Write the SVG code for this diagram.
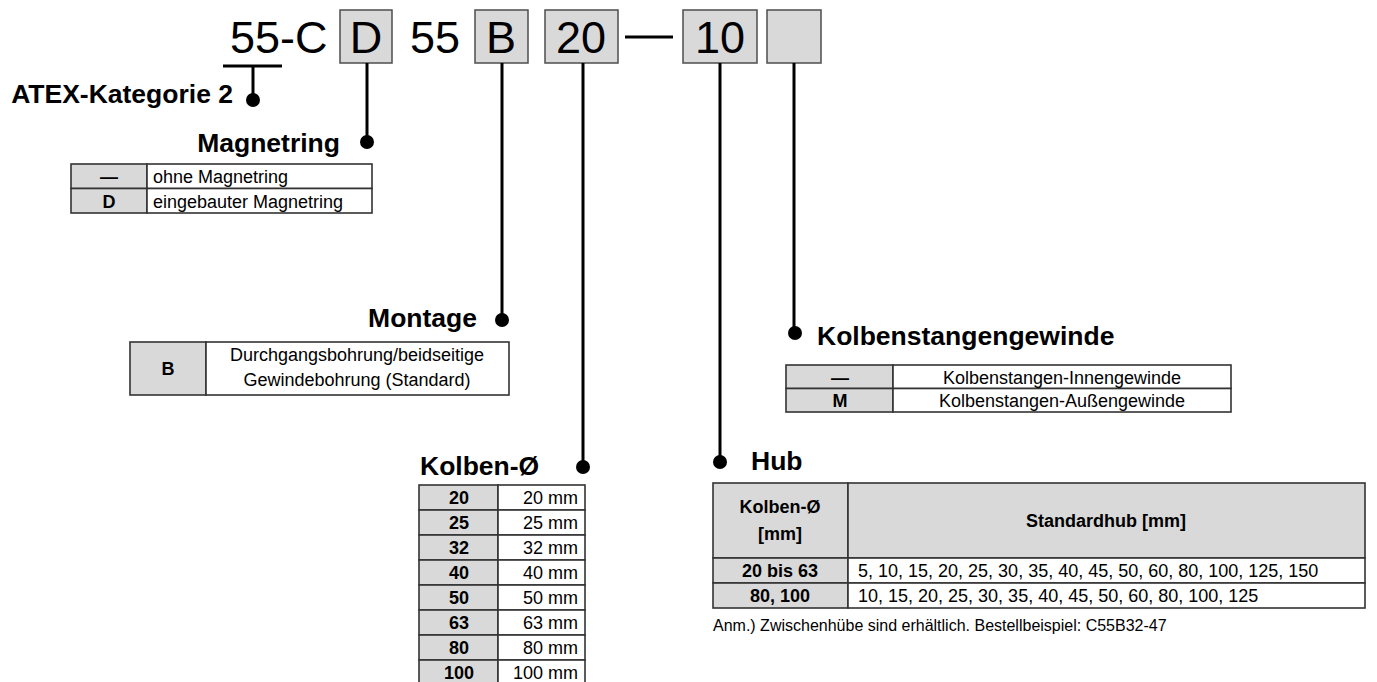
<svg xmlns="http://www.w3.org/2000/svg" width="1377" height="682" viewBox="0 0 1377 682">
<style>
text{font-family:"Liberation Sans",Arial,sans-serif;fill:#000}
.code{font-size:45px}
.h{font-size:26.5px;font-weight:bold}
.t{font-size:18px}
.tb{font-size:18px;font-weight:bold}
.note{font-size:16px}
.box{fill:#d9d9d9;stroke:#4d4d4d;stroke-width:1.5}
.g{fill:#d9d9d9;stroke:#333;stroke-width:1.6}
.w{fill:#fff;stroke:#333;stroke-width:1.6}
.ln{stroke:#000;stroke-width:3;fill:none}
.dot{fill:#000}
.m{text-anchor:middle}
.e{text-anchor:end}
</style>
<rect width="1377" height="682" fill="#fff"/>
<g id="code">
<text class="code" x="230" y="53">55-C</text>
<rect class="box" x="340" y="10" width="52" height="53"/>
<text class="code m" x="366" y="53">D</text>
<text class="code" x="410" y="53">55</text>
<rect class="box" x="475" y="10" width="53" height="53"/>
<text class="code m" x="501" y="53">B</text>
<rect class="box" x="545" y="10" width="73" height="53"/>
<text class="code m" x="581" y="53">20</text>
<line class="ln" x1="625" y1="37" x2="673" y2="37"/>
<rect class="box" x="683" y="10" width="74" height="53"/>
<text class="code m" x="720" y="53">10</text>
<rect class="box" x="767" y="10" width="54" height="53"/>
</g>
<g id="connectors">
<line class="ln" x1="223" y1="66" x2="282" y2="66"/>
<line class="ln" x1="253" y1="66" x2="253" y2="100"/>
<circle class="dot" cx="253" cy="100" r="7"/>
<line class="ln" x1="367" y1="63" x2="367" y2="142"/>
<circle class="dot" cx="367" cy="142" r="7"/>
<line class="ln" x1="502" y1="63" x2="502" y2="320"/>
<circle class="dot" cx="502" cy="320" r="7"/>
<line class="ln" x1="583" y1="63" x2="583" y2="467"/>
<circle class="dot" cx="583" cy="467" r="7"/>
<line class="ln" x1="720" y1="63" x2="720" y2="462"/>
<circle class="dot" cx="720" cy="462" r="7"/>
<line class="ln" x1="794" y1="63" x2="794" y2="333"/>
<circle class="dot" cx="795" cy="333" r="7"/>
</g>
<g id="atex">
<text class="h e" x="233" y="103">ATEX-Kategorie 2</text>
</g>
<g id="magnetring">
<text class="h e" x="340" y="152">Magnetring</text>
<rect class="g" x="71" y="164" width="76" height="24.5"/>
<rect class="w" x="147" y="164" width="225" height="24.5"/>
<rect class="g" x="71" y="188.5" width="76" height="24.5"/>
<rect class="w" x="147" y="188.5" width="225" height="24.5"/>
<text class="tb m" x="109" y="183">—</text>
<text class="t" x="153" y="183">ohne Magnetring</text>
<text class="tb m" x="109" y="207.5">D</text>
<text class="t" x="153" y="207.5">eingebauter Magnetring</text>
</g>
<g id="montage">
<text class="h e" x="477" y="327">Montage</text>
<rect class="g" x="130" y="342" width="76" height="53"/>
<rect class="w" x="206" y="342" width="303" height="53"/>
<text class="tb m" x="168" y="375">B</text>
<text class="t m" x="357" y="361">Durchgangsbohrung/beidseitige</text>
<text class="t m" x="357" y="386">Gewindebohrung (Standard)</text>
</g>
<g id="kolbenstangengewinde">
<text class="h" x="817" y="345">Kolbenstangengewinde</text>
<rect class="g" x="786" y="365" width="107" height="23.5"/>
<rect class="w" x="893" y="365" width="338" height="23.5"/>
<rect class="g" x="786" y="388.5" width="107" height="23.5"/>
<rect class="w" x="893" y="388.5" width="338" height="23.5"/>
<text class="tb m" x="840" y="383.5">—</text>
<text class="t m" x="1062" y="383.5">Kolbenstangen-Innengewinde</text>
<text class="tb m" x="840" y="407">M</text>
<text class="t m" x="1062" y="407">Kolbenstangen-Außengewinde</text>
</g>
<g id="kolben">
<text class="h" x="420" y="475">Kolben-Ø</text>
<rect class="g" x="419" y="485" width="79" height="25"/><rect class="w" x="498" y="485" width="87" height="25"/>
<rect class="g" x="419" y="510" width="79" height="25"/><rect class="w" x="498" y="510" width="87" height="25"/>
<rect class="g" x="419" y="535" width="79" height="25"/><rect class="w" x="498" y="535" width="87" height="25"/>
<rect class="g" x="419" y="560" width="79" height="25"/><rect class="w" x="498" y="560" width="87" height="25"/>
<rect class="g" x="419" y="585" width="79" height="25"/><rect class="w" x="498" y="585" width="87" height="25"/>
<rect class="g" x="419" y="610" width="79" height="25"/><rect class="w" x="498" y="610" width="87" height="25"/>
<rect class="g" x="419" y="635" width="79" height="25"/><rect class="w" x="498" y="635" width="87" height="25"/>
<rect class="g" x="419" y="660" width="79" height="25"/><rect class="w" x="498" y="660" width="87" height="25"/>
<text class="tb m" x="459" y="504">20</text><text class="t e" x="578" y="504">20 mm</text>
<text class="tb m" x="459" y="529">25</text><text class="t e" x="578" y="529">25 mm</text>
<text class="tb m" x="459" y="554">32</text><text class="t e" x="578" y="554">32 mm</text>
<text class="tb m" x="459" y="579">40</text><text class="t e" x="578" y="579">40 mm</text>
<text class="tb m" x="459" y="604">50</text><text class="t e" x="578" y="604">50 mm</text>
<text class="tb m" x="459" y="629">63</text><text class="t e" x="578" y="629">63 mm</text>
<text class="tb m" x="459" y="654">80</text><text class="t e" x="578" y="654">80 mm</text>
<text class="tb m" x="459" y="679">100</text><text class="t e" x="578" y="679">100 mm</text>
</g>
<g id="hub">
<text class="h" x="751" y="470">Hub</text>
<rect class="g" x="713" y="483" width="135" height="75"/>
<rect class="g" x="848" y="483" width="517" height="75"/>
<rect class="g" x="713" y="558" width="135" height="25"/>
<rect class="w" x="848" y="558" width="517" height="25"/>
<rect class="g" x="713" y="583" width="135" height="25"/>
<rect class="w" x="848" y="583" width="517" height="25"/>
<text class="tb m" x="780" y="513">Kolben-Ø</text>
<text class="tb m" x="780" y="540">[mm]</text>
<text class="tb m" x="1106" y="527">Standardhub [mm]</text>
<text class="tb m" x="780" y="577">20 bis 63</text>
<text class="t" x="858" y="577">5, 10, 15, 20, 25, 30, 35, 40, 45, 50, 60, 80, 100, 125, 150</text>
<text class="tb m" x="780" y="602">80, 100</text>
<text class="t" x="858" y="602">10, 15, 20, 25, 30, 35, 40, 45, 50, 60, 80, 100, 125</text>
<text class="note" x="713" y="631">Anm.) Zwischenhübe sind erhältlich. Bestellbeispiel: C55B32-47</text>
</g>
</svg>
